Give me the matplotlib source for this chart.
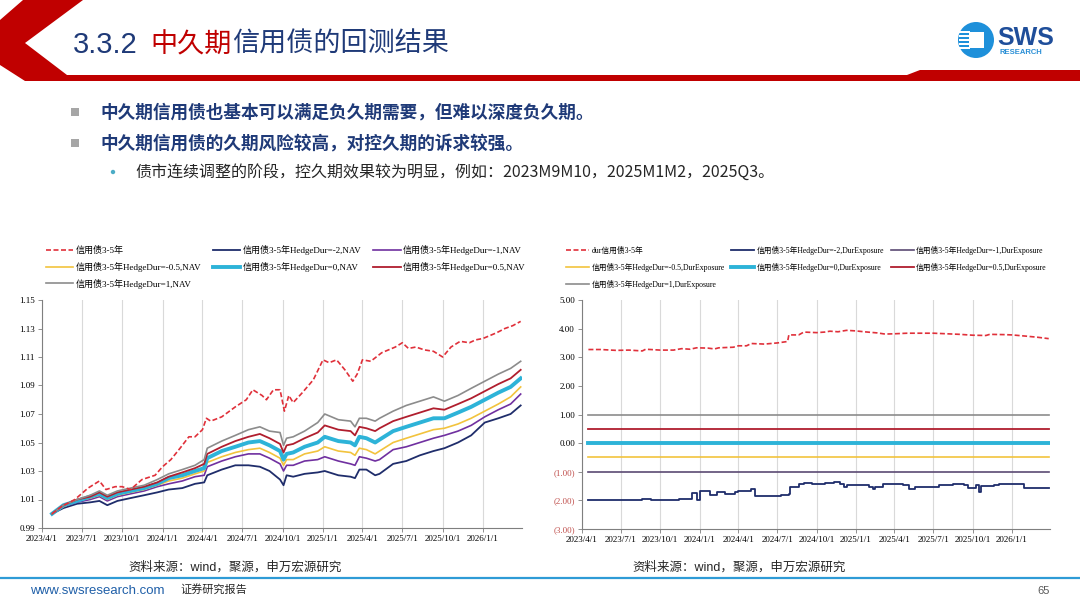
import matplotlib
matplotlib.use("Agg")
import matplotlib.pyplot as plt
import matplotlib.dates as mdates
from matplotlib.patches import Polygon, Ellipse, Rectangle
from matplotlib.lines import Line2D
import pandas as pd

W, H = 1080, 608
CJK = "Noto Sans CJK SC"
SERIF = ["Liberation Serif", CJK]
SANS = ["Liberation Sans", CJK]

# ---- left chart: NAV ----
bench_dates = ["2023-04-24", "2023-05-15", "2023-06-15", "2023-07-15", "2023-08-10", "2023-08-25",
               "2023-09-15", "2023-10-01", "2023-10-20", "2023-11-15", "2023-12-15",
               "2024-01-01", "2024-01-20", "2024-02-10", "2024-03-01", "2024-03-15", "2024-04-01",
               "2024-04-10", "2024-04-20", "2024-05-15", "2024-06-15", "2024-07-10", "2024-07-25",
               "2024-08-15", "2024-08-25", "2024-09-10", "2024-09-25", "2024-10-05", "2024-10-15",
               "2024-10-25", "2024-11-15", "2024-12-10",
               "2025-01-01", "2025-01-15", "2025-02-01", "2025-02-20", "2025-03-10", "2025-03-20",
               "2025-04-01", "2025-04-20", "2025-05-15", "2025-06-15", "2025-07-01", "2025-07-15",
               "2025-08-01", "2025-08-20", "2025-09-10", "2025-10-01", "2025-10-20", "2025-11-10",
               "2025-12-01", "2025-12-15",
               "2026-01-01", "2026-02-01", "2026-02-20", "2026-03-10", "2026-03-28"]
bench_nav = [1.000, 1.005, 1.010, 1.018, 1.023, 1.017, 1.019, 1.019, 1.017, 1.024, 1.027,
             1.033, 1.038, 1.046, 1.054, 1.054, 1.059, 1.067, 1.065, 1.068, 1.075, 1.080, 1.087,
             1.083, 1.080, 1.087, 1.087, 1.072, 1.083, 1.078, 1.085, 1.094,
             1.108, 1.106, 1.108, 1.101, 1.093, 1.098, 1.108, 1.107, 1.113, 1.117, 1.120, 1.116,
             1.117, 1.115, 1.114, 1.110, 1.117, 1.121, 1.120, 1.122,
             1.123, 1.127, 1.130, 1.132, 1.135]

nav_dates = ["2023-04-24", "2023-05-20", "2023-06-20", "2023-07-20", "2023-08-10", "2023-08-28",
             "2023-09-20", "2023-10-20", "2023-11-20", "2023-12-20",
             "2024-01-15", "2024-02-15", "2024-03-15", "2024-04-05", "2024-04-12", "2024-05-15",
             "2024-06-15", "2024-07-15", "2024-08-10", "2024-09-01", "2024-09-25", "2024-10-03",
             "2024-10-10", "2024-10-25", "2024-11-20", "2024-12-20",
             "2025-01-05", "2025-02-05", "2025-03-05", "2025-03-15", "2025-03-25", "2025-04-10",
             "2025-04-30", "2025-05-10", "2025-06-10", "2025-07-10", "2025-08-10", "2025-09-10",
             "2025-10-05", "2025-11-05", "2025-12-05",
             "2026-01-05", "2026-02-05", "2026-03-05", "2026-03-28"]
nav_m2 = [1.000, 1.004, 1.007, 1.008, 1.009, 1.006, 1.009, 1.011, 1.013, 1.015,
          1.017, 1.018, 1.021, 1.022, 1.027, 1.031, 1.034, 1.034, 1.033, 1.030, 1.024, 1.020,
          1.027, 1.026, 1.028, 1.029,
          1.030, 1.027, 1.026, 1.025, 1.031, 1.031, 1.027, 1.028, 1.035, 1.037, 1.041, 1.044,
          1.046, 1.050, 1.055,
          1.064, 1.067, 1.070, 1.076]
nav_m1 = [1.000, 1.005, 1.008, 1.010, 1.012, 1.009, 1.012, 1.014, 1.016, 1.019,
          1.021, 1.023, 1.026, 1.027, 1.033, 1.037, 1.040, 1.042, 1.042, 1.039, 1.035, 1.030,
          1.034, 1.034, 1.037, 1.038,
          1.040, 1.037, 1.035, 1.034, 1.040, 1.039, 1.037, 1.038, 1.045, 1.047, 1.050, 1.053,
          1.055, 1.058, 1.062,
          1.068, 1.073, 1.077, 1.084]
nav_m05 = [1.000, 1.005, 1.009, 1.011, 1.013, 1.010, 1.013, 1.015, 1.017, 1.020,
           1.023, 1.025, 1.028, 1.030, 1.036, 1.040, 1.043, 1.045, 1.046, 1.043, 1.039, 1.034,
           1.038, 1.038, 1.042, 1.044,
           1.047, 1.044, 1.043, 1.041, 1.046, 1.045, 1.042, 1.044, 1.050, 1.053, 1.056, 1.059,
           1.060, 1.063, 1.067,
           1.072, 1.077, 1.082, 1.089]
nav_0 = [1.000, 1.006, 1.009, 1.012, 1.014, 1.011, 1.014, 1.016, 1.018, 1.021,
         1.025, 1.027, 1.030, 1.032, 1.039, 1.044, 1.047, 1.050, 1.051, 1.048, 1.044, 1.038,
         1.042, 1.043, 1.047, 1.050,
         1.054, 1.051, 1.050, 1.048, 1.054, 1.053, 1.050, 1.052, 1.058, 1.061, 1.064, 1.067,
         1.067, 1.071, 1.075,
         1.080, 1.085, 1.089, 1.095]
nav_p05 = [1.000, 1.006, 1.010, 1.012, 1.015, 1.012, 1.015, 1.017, 1.019, 1.022,
           1.026, 1.029, 1.032, 1.035, 1.042, 1.047, 1.051, 1.054, 1.056, 1.053, 1.049, 1.043,
           1.048, 1.049, 1.053, 1.057,
           1.062, 1.059, 1.058, 1.055, 1.061, 1.060, 1.058, 1.060, 1.065, 1.068, 1.071, 1.074,
           1.073, 1.077, 1.081,
           1.086, 1.091, 1.095, 1.101]
nav_p1 = [1.000, 1.006, 1.010, 1.013, 1.016, 1.013, 1.016, 1.018, 1.020, 1.024,
          1.028, 1.031, 1.034, 1.038, 1.046, 1.051, 1.055, 1.059, 1.061, 1.058, 1.057, 1.048,
          1.053, 1.054, 1.058, 1.064,
          1.070, 1.066, 1.065, 1.061, 1.067, 1.067, 1.065, 1.067, 1.072, 1.076, 1.079, 1.082,
          1.079, 1.083, 1.088,
          1.093, 1.098, 1.102, 1.107]

# ---- right chart: duration exposure ----
dur_dates = ["2023-04-16", "2023-05-15", "2023-06-20", "2023-07-20", "2023-08-20", "2023-08-28",
             "2023-10-01", "2023-11-01", "2023-11-20", "2023-12-10", "2023-12-25",
             "2024-01-20", "2024-02-05", "2024-02-15", "2024-03-20", "2024-04-01", "2024-04-20",
             "2024-05-01", "2024-06-01", "2024-07-01", "2024-07-25", "2024-07-28", "2024-08-20",
             "2024-09-01", "2024-10-01", "2024-10-20", "2024-11-01", "2024-11-20", "2024-12-10",
             "2025-01-01", "2025-01-20", "2025-02-20", "2025-03-10", "2025-04-01", "2025-05-01",
             "2025-07-01", "2025-08-01", "2025-09-01", "2025-10-01", "2025-11-01", "2025-11-10",
             "2025-12-15", "2026-01-01", "2026-02-01", "2026-03-01", "2026-03-28"]
dur_bench = [3.27, 3.27, 3.24, 3.25, 3.22, 3.28, 3.25, 3.25, 3.30, 3.28, 3.33,
             3.32, 3.29, 3.33, 3.35, 3.40, 3.40, 3.48, 3.46, 3.50, 3.55, 3.78, 3.78,
             3.88, 3.86, 3.88, 3.91, 3.89, 3.94,
             3.92, 3.89, 3.85, 3.81, 3.82, 3.84, 3.84, 3.82, 3.80, 3.77, 3.76, 3.80,
             3.79, 3.78, 3.74, 3.70, 3.65]

m2_dates = ["2023-04-16", "2023-04-25", "2023-05-05", "2023-08-15", "2023-08-20", "2023-09-10",
            "2023-09-15", "2023-11-10", "2023-11-15", "2023-12-10", "2023-12-15", "2023-12-25",
            "2024-01-01", "2024-01-20", "2024-01-25", "2024-02-10", "2024-03-01", "2024-03-25",
            "2024-04-01", "2024-05-01", "2024-05-10", "2024-06-15", "2024-07-10", "2024-07-28",
            "2024-07-30", "2024-08-15", "2024-08-20", "2024-09-01", "2024-09-20", "2024-10-20",
            "2024-11-10", "2024-11-25", "2024-12-05", "2024-12-10", "2025-01-10", "2025-02-01",
            "2025-02-10", "2025-02-15", "2025-03-01", "2025-03-05", "2025-04-20", "2025-05-01",
            "2025-05-05", "2025-05-20", "2025-07-01", "2025-07-15", "2025-08-15", "2025-09-10",
            "2025-09-20", "2025-10-05", "2025-10-10", "2025-10-15", "2025-10-20", "2025-11-20",
            "2025-12-01", "2026-01-01", "2026-01-20", "2026-01-28", "2026-03-28"]
dur_m2 = [-2.00, -1.97, -2.00, -2.00, -1.95, -1.97,
          -2.00, -2.00, -1.95, -1.95, -1.75, -2.00,
          -1.68, -1.68, -1.82, -1.72, -1.76, -1.72,
          -1.68, -1.62, -1.84, -1.84, -1.80, -1.78,
          -1.55, -1.53, -1.43, -1.38, -1.44, -1.40,
          -1.36, -1.42, -1.55, -1.46, -1.47, -1.53,
          -1.60, -1.53, -1.53, -1.42, -1.45, -1.47,
          -1.60, -1.52, -1.52, -1.47, -1.44, -1.45,
          -1.56, -1.56, -1.45, -1.72, -1.50, -1.48,
          -1.42, -1.43, -1.43, -1.58, -1.57]
flat_dates = ["2023-04-16", "2026-03-28"]
dur_m1 = [-1.0, -1.0]
dur_m05 = [-0.5, -0.5]
dur_0 = [0.0, 0.0]
dur_p05 = [0.5, 0.5]
dur_p1 = [1.0, 1.0]

quarter_ticks = pd.date_range("2023-04-01", "2026-01-01", freq="QS-JAN")

C_BENCH = "#E0303A"
C_M2 = "#1F2D6B"
C_M1 = "#7030A0"
C_M05 = "#F2C33D"
C_0 = "#2DB3D8"
C_P05 = "#B01E2E"
C_P1 = "#8C8C8C"
NAVY_TXT = "#1F3A78"


def fx(x):
    return x / W


def fy(y):
    return 1 - y / H


def dot(cx, cy, r, color):
    # round in pixels, figure coords are not square
    return Ellipse((fx(cx), fy(cy)), 2 * r / W, 2 * r / H, transform=fig.transFigure,
                   facecolor=color, edgecolor="none")


def date_fmt(v, pos=None):
    d = mdates.num2date(v)
    return f"{d.year}/{d.month}/{d.day}"


def style_axes(ax):
    for s in ("top", "right"):
        ax.spines[s].set_visible(False)
    for s in ("left", "bottom"):
        ax.spines[s].set_color("#7F7F7F")
        ax.spines[s].set_linewidth(0.8)
    ax.set_xlim(pd.Timestamp("2023-04-01"), pd.Timestamp("2026-03-31"))
    ax.set_xticks(quarter_ticks)
    ax.xaxis.set_major_formatter(plt.FuncFormatter(date_fmt))
    ax.grid(axis="x", color="#D9D9D9", linewidth=0.8)
    ax.set_axisbelow(True)
    ax.tick_params(axis="both", labelsize=6.5, length=3, width=0.6, color="#7F7F7F", pad=2)
    for lab in ax.get_xticklabels() + ax.get_yticklabels():
        lab.set_family(SERIF)


fig = plt.figure(figsize=(W / 100, H / 100), dpi=100)
fig.patch.set_facecolor("white")

# ---- header ----
band = [(23, 0), (83, 0), (25, 43), (67, 75), (907, 75), (920, 70), (1080, 70),
        (1080, 81), (25, 81), (0, 65), (0, 20)]
fig.patches.append(Polygon([(fx(x), fy(y)) for x, y in band], closed=True,
                           transform=fig.transFigure, facecolor="#C00000", edgecolor="none"))

renderer = fig.canvas.get_renderer()
x = 73
for s, col, size, gap in [("3.3.2", NAVY_TXT, 21, 13), ("中久期", "#C00000", 19.5, 0),
                          ("信用债的回测结果", NAVY_TXT, 19.5, 0)]:
    t = fig.text(fx(x), fy(45), s, color=col, fontsize=size, family=SANS, va="center", ha="left")
    x += t.get_window_extent(renderer=renderer).width + gap

# logo
fig.patches.append(dot(976, 40, 18, "#1E90DA"))
for yy in (32, 36, 40, 44, 48):
    fig.patches.append(Rectangle((fx(959), fy(yy + 1)), 11 / W, 2 / H, transform=fig.transFigure,
                                 facecolor="white", edgecolor="none"))
fig.patches.append(Rectangle((fx(969), fy(48)), 15 / W, 16 / H, transform=fig.transFigure,
                             facecolor="white", edgecolor="none"))
fig.text(fx(997), fy(38), "SWS", fontsize=18, fontweight="bold", color="#1F4E9A",
         family=["Liberation Sans"], va="center", ha="left")
fig.text(fx(999), fy(52), "RESEARCH", fontsize=5.5, fontweight="bold", color="#2A8FD6",
         family=["Liberation Sans"], va="center", ha="left")

# ---- bullet text ----
for yy, s in [(112, "中久期信用债也基本可以满足负久期需要，但难以深度负久期。"),
              (143, "中久期信用债的久期风险较高，对控久期的诉求较强。")]:
    fig.patches.append(Rectangle((fx(71), fy(yy + 4)), 8 / W, 8 / H, transform=fig.transFigure,
                                 facecolor="#A6A6A6", edgecolor="none"))
    fig.text(fx(100), fy(yy), s, fontsize=12.7, fontweight="bold", color="#1F3A78",
             family=[CJK], va="center", ha="left")
fig.patches.append(dot(113, 172, 2.2, "#4BACC6"))
fig.text(fx(135), fy(172), "债市连续调整的阶段，控久期效果较为明显，例如：2023M9M10，2025M1M2，2025Q3。",
         fontsize=11.5, color="#262626", family=[CJK], va="center", ha="left")

# ---- left chart ----
ax1 = fig.add_axes([fx(42), fy(528), (522 - 42) / W, (528 - 300) / H])
nd = pd.to_datetime(nav_dates)
l_bench, = ax1.plot(pd.to_datetime(bench_dates), bench_nav, color=C_BENCH, lw=1.2, ls=(0, (3, 1.5)),
                    label="信用债3-5年", zorder=8)
l_m2, = ax1.plot(nd, nav_m2, color=C_M2, lw=1.3, label="信用债3-5年HedgeDur=-2,NAV")
l_m1, = ax1.plot(nd, nav_m1, color=C_M1, lw=1.2, label="信用债3-5年HedgeDur=-1,NAV")
l_m05, = ax1.plot(nd, nav_m05, color=C_M05, lw=1.2, label="信用债3-5年HedgeDur=-0.5,NAV")
l_0, = ax1.plot(nd, nav_0, color=C_0, lw=2.8, label="信用债3-5年HedgeDur=0,NAV")
l_p05, = ax1.plot(nd, nav_p05, color=C_P05, lw=1.3, label="信用债3-5年HedgeDur=0.5,NAV")
l_p1, = ax1.plot(nd, nav_p1, color=C_P1, lw=1.2, label="信用债3-5年HedgeDur=1,NAV")
ax1.set_ylim(0.99, 1.15)
ax1.set_yticks([0.99, 1.01, 1.03, 1.05, 1.07, 1.09, 1.11, 1.13, 1.15])
ax1.yaxis.set_major_formatter(plt.FuncFormatter(lambda v, p: f"{v:.2f}"))
style_axes(ax1)

order1 = [l_bench, l_m05, l_p1, l_m2, l_0, l_m1, l_p05]
fig.legend(handles=order1, labels=[h.get_label() for h in order1], ncol=3,
           loc="upper left", bbox_to_anchor=(fx(46), fy(245)), frameon=False,
           prop={"family": SERIF, "size": 6.5}, handlelength=3.0, handletextpad=0.3,
           columnspacing=1.3, labelspacing=0.75, borderaxespad=0, borderpad=0)

# ---- right chart ----
ax2 = fig.add_axes([fx(582), fy(529), (1050 - 582) / W, (529 - 300) / H])
fd = pd.to_datetime(flat_dates)
r_bench, = ax2.plot(pd.to_datetime(dur_dates), dur_bench, color=C_BENCH, lw=1.2, ls=(0, (3, 1.5)),
                    label="dur信用债3-5年", zorder=8)
r_m2, = ax2.plot(pd.to_datetime(m2_dates), dur_m2, color=C_M2, lw=1.3, drawstyle="steps-post",
                 label="信用债3-5年HedgeDur=-2,DurExposure")
r_m1, = ax2.plot(fd, dur_m1, color="#5B4A73", lw=1.2, label="信用债3-5年HedgeDur=-1,DurExposure")
r_m05, = ax2.plot(fd, dur_m05, color=C_M05, lw=1.2, label="信用债3-5年HedgeDur=-0.5,DurExposure")
r_0, = ax2.plot(fd, dur_0, color=C_0, lw=2.8, label="信用债3-5年HedgeDur=0,DurExposure")
r_p05, = ax2.plot(fd, dur_p05, color=C_P05, lw=1.3, label="信用债3-5年HedgeDur=0.5,DurExposure")
r_p1, = ax2.plot(fd, dur_p1, color=C_P1, lw=1.2, label="信用债3-5年HedgeDur=1,DurExposure")
ax2.set_ylim(-3, 5)
yt = [-3, -2, -1, 0, 1, 2, 3, 4, 5]
ax2.set_yticks(yt, [f"({abs(v):.2f})" if v < 0 else f"{v:.2f}" for v in yt])
style_axes(ax2)
for lab, v in zip(ax2.get_yticklabels(), yt):
    if v < 0:
        lab.set_color("#C0504D")

order2 = [r_bench, r_m05, r_p1, r_m2, r_0, r_m1, r_p05]
fig.legend(handles=order2, labels=[h.get_label() for h in order2], ncol=3,
           loc="upper left", bbox_to_anchor=(fx(566), fy(246)), frameon=False,
           prop={"family": SERIF, "size": 5.6}, handlelength=3.0, handletextpad=0.3,
           columnspacing=0.8, labelspacing=1.0, borderaxespad=0, borderpad=0)

# ---- sources & footer ----
for xx in (128, 632):
    fig.text(fx(xx), fy(567), "资料来源：wind，聚源，申万宏源研究", fontsize=9, color="#262626",
             family=SANS, va="center", ha="left")
fig.add_artist(Line2D([0, 1], [fy(578), fy(578)], transform=fig.transFigure,
                      color="#2E9BD6", lw=1.6))
fig.text(fx(30), fy(591), "www.swsresearch.com", fontsize=9.5, color="#1F5FA8",
         family=SANS, va="center", ha="left")
fig.text(fx(180), fy(589), "证券研究报告", fontsize=8, color="#262626",
         family=SANS, va="center", ha="left")
fig.text(fx(1050), fy(591), "65", fontsize=8, color="#595959",
         family=SANS, va="center", ha="right")

fig.savefig("out.png", dpi=100)
